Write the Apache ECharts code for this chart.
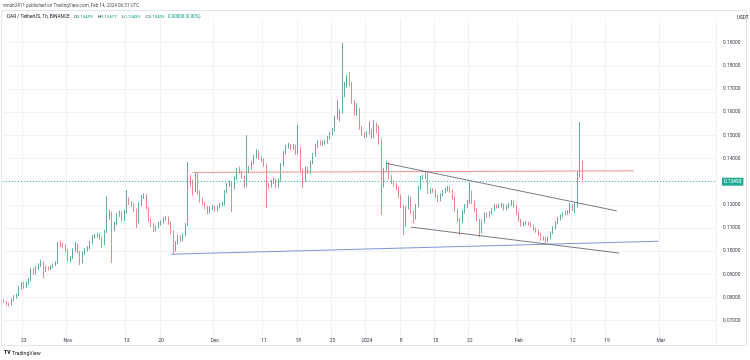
<!DOCTYPE html>
<html><head><meta charset="utf-8">
<script src="https://cdn.jsdelivr.net/npm/echarts@6/dist/echarts.min.js"></script>
<style>html,body{margin:0;padding:0;background:#fff}#c{width:750px;height:360px}</style>
</head><body><div id="c"></div>
<script>
// 12h candles DAR/USDT starting 2023-10-19 00:00 UTC
const firstOpen = 0.0785;
const closes = [
.0781,.0772,.0768,.0789,.0802,.0811,.0841,.0858,.0845,.0863,
.0876,.0919,.0906,.0927,.0940,.0949,.0919,.0927,.0925,.0932,
.0940,.0949,.1031,.1027,.1022,.1005,.0962,.0971,.1005,.1027,
.0997,.0953,.0992,.1005,.1014,.1035,.1061,.1066,.1070,.1057,
.1031,.1083,.1143,.1165,.1091,.1118,.1156,.1165,.1135,.1169,
.1221,.1208,.1200,.1178,.1126,.1200,.1234,.1242,.1186,.1135,
.1113,.1091,.1104,.1118,.1126,.1139,.1143,.1122,.1083,.1005,
.1035,.1061,.1048,.1070,.1113,.1307,.1299,.1264,.1329,.1256,
.1221,.1208,.1191,.1169,.1186,.1191,.1178,.1191,.1200,.1204,
.1256,.1286,.1294,.1273,.1316,.1350,.1342,.1320,.1281,.1342,
.1359,.1381,.1407,.1428,.1402,.1394,.1372,.1286,.1281,.1299,
.1307,.1281,.1307,.1372,.1424,.1450,.1454,.1445,.1454,.1424,
.1445,.1350,.1307,.1359,.1342,.1381,.1415,.1454,.1471,.1463,
.1467,.1471,.1489,.1506,.1523,.1575,.1584,.1601,.1675,.1713,
.1739,.1722,.1644,.1592,.1610,.1532,.1506,.1497,.1510,.1523,
.1493,.1549,.1519,.1480,.1281,.1350,.1376,.1320,.1299,.1286,
.1273,.1238,.1195,.1113,.1186,.1230,.1169,.1143,.1195,.1273,
.1316,.1320,.1333,.1256,.1264,.1260,.1238,.1221,.1242,.1256,
.1264,.1273,.1260,.1230,.1178,.1135,.1126,.1169,.1195,.1212,
.1256,.1212,.1178,.1135,.1083,.1126,.1160,.1152,.1165,.1178,
.1195,.1191,.1195,.1200,.1182,.1191,.1200,.1212,.1195,.1165,
.1135,.1113,.1118,.1122,.1118,.1109,.1096,.1087,.1074,.1053,
.1057,.1048,.1057,.1079,.1100,.1122,.1139,.1152,.1160,.1165,
.1169,.1195,.1182,.1200,.1329,.1376,.13493
];
const highs = [
.0792,.0786,.0778,.0795,.0810,.0818,.0849,.0866,.0868,.0870,
.0885,.0929,.0927,.0935,.0948,.0962,.0955,.0936,.0934,.0940,
.0946,.0957,.1040,.1046,.1036,.1030,.1010,.0980,.1013,.1040,
.1032,.1002,.1000,.1013,.1022,.1044,.1070,.1075,.1080,.1077,
.1062,.1092,.1238,.1180,.1172,.1127,.1165,.1176,.1172,.1178,
.1264,.1232,.1216,.1207,.1184,.1210,.1242,.1250,.1248,.1192,
.1142,.1120,.1112,.1126,.1134,.1147,.1152,.1150,.1128,.1090,
.1043,.1069,.1068,.1078,.1122,.1385,.1330,.1310,.1342,.1336,
.1262,.1230,.1214,.1196,.1194,.1199,.1197,.1198,.1208,.1213,
.1264,.1295,.1305,.1300,.1325,.1360,.1365,.1348,.1326,.1501,
.1368,.1390,.1416,.1440,.1434,.1410,.1400,.1378,.1296,.1308,
.1316,.1313,.1315,.1380,.1433,.1460,.1468,.1462,.1463,.1460,
.1545,.1450,.1356,.1366,.1365,.1390,.1424,.1463,.1480,.1478,
.1476,.1480,.1498,.1515,.1532,.1586,.1653,.1612,.1899,.1730,
.1760,.1774,.1730,.1652,.1640,.1618,.1540,.1514,.1518,.1560,
.1530,.1566,.1556,.1545,.1486,.1360,.1390,.1384,.1328,.1306,
.1294,.1280,.1244,.1200,.1194,.1240,.1236,.1176,.1204,.1282,
.1325,.1330,.1345,.1340,.1272,.1272,.1266,.1244,.1250,.1264,
.1272,.1282,.1280,.1266,.1236,.1184,.1142,.1178,.1204,.1220,
.1298,.1262,.1218,.1184,.1140,.1134,.1168,.1167,.1173,.1186,
.1203,.1202,.1204,.1208,.1206,.1199,.1208,.1222,.1218,.1200,
.1170,.1140,.1126,.1130,.1128,.1124,.1115,.1102,.1093,.1080,
.1064,.1062,.1064,.1086,.1108,.1130,.1147,.1160,.1168,.1174,
.1178,.1208,.1202,.1208,.1345,.1558,.1390
];
const lows = [
.0776,.0766,.0761,.0764,.0783,.0795,.0806,.0834,.0838,.0840,
.0856,.0870,.0897,.0900,.0920,.0933,.0884,.0910,.0917,.0918,
.0926,.0936,.0945,.1018,.1012,.0996,.0955,.0952,.0966,.0998,
.0990,.0940,.0948,.0985,.0998,.1008,.1030,.1054,.1058,.1050,
.1014,.1026,.1078,.1136,.0949,.1085,.1112,.1148,.1128,.1130,
.1162,.1200,.1192,.1170,.1100,.1120,.1194,.1225,.1180,.1128,
.1105,.1083,.1085,.1098,.1111,.1120,.1132,.1115,.1075,.0988,
.0998,.1028,.1040,.1042,.1064,.1108,.1280,.1240,.1255,.1245,
.1210,.1198,.1182,.1160,.1162,.1178,.1170,.1172,.1185,.1194,
.1198,.1250,.1278,.1169,.1266,.1310,.1334,.1312,.1272,.1276,
.1335,.1352,.1375,.1400,.1395,.1386,.1364,.1186,.1270,.1274,
.1291,.1272,.1275,.1300,.1366,.1418,.1442,.1436,.1438,.1416,
.1418,.1342,.1273,.1300,.1334,.1336,.1375,.1408,.1446,.1455,
.1456,.1460,.1464,.1482,.1500,.1516,.1568,.1560,.1594,.1665,
.1705,.1712,.1636,.1584,.1585,.1524,.1498,.1488,.1490,.1503,
.1485,.1488,.1510,.1460,.1156,.1275,.1342,.1312,.1290,.1278,
.1264,.1230,.1186,.1070,.1106,.1180,.1160,.1120,.1136,.1190,
.1266,.1308,.1312,.1248,.1248,.1252,.1230,.1212,.1215,.1236,
.1250,.1258,.1252,.1222,.1170,.1126,.1070,.1120,.1162,.1188,
.1206,.1204,.1170,.1127,.1061,.1077,.1120,.1144,.1146,.1158,
.1172,.1184,.1186,.1188,.1175,.1176,.1185,.1194,.1188,.1158,
.1128,.1106,.1108,.1112,.1110,.1102,.1088,.1080,.1066,.1045,
.1046,.1035,.1040,.1052,.1073,.1094,.1116,.1133,.1146,.1154,
.1158,.1162,.1174,.1165,.1190,.1320,.1307
];
const lastPrice = 0.13493;
// time-scale tick labels
const tickDates = ['2023-10-23','2023-11-01','2023-11-13','2023-11-20','2023-12-01','2023-12-11','2023-12-18','2023-12-25','2024-01-01','2024-01-08','2024-01-15','2024-01-22','2024-02-01','2024-02-12','2024-02-19','2024-03-01'];
const tickTexts = ['23','Nov','13','20','Dec','11','18','25','2024','8','15','22','Feb','12','19','Mar'];
// drawings (date, price)
const horizLine = [['2023-11-26 12', 0.1340], ['2024-02-24 12', 0.1347]];
const upperTrend = [['2024-01-05 00', 0.1379], ['2024-02-21 00', 0.1174]];
const lowerTrend = [['2024-01-10 00', 0.1104], ['2024-02-21 12', 0.0992]];
const supportLine = [['2023-11-22 00', 0.0987], ['2024-02-29 12', 0.1043]];

const nCats = 291;
const startUTC = Date.UTC(2023, 9, 19, 0);
const pad = n => String(n).padStart(2, '0');
const cats = [];
for (let i = 0; i < nCats; i++) {
  const d = new Date(startUTC + i * 12 * 3600e3);
  cats.push(d.getUTCFullYear() + '-' + pad(d.getUTCMonth() + 1) + '-' + pad(d.getUTCDate()) + ' ' + pad(d.getUTCHours()));
}
const tickMap = {};
tickDates.forEach((t, k) => { tickMap[t + ' 00'] = tickTexts[k]; });
const candles = closes.map((c, i) => [i === 0 ? firstOpen : closes[i - 1], c, lows[i], highs[i]]);

const UP = '#1f8c7d', DOWN = '#e2535c';
const FONT = 'Roboto';
const chart = echarts.init(document.getElementById('c'), null, {renderer: 'canvas'});
const lineSeries = (data, color, w) => ({
  type: 'line', data: data, symbol: 'none', silent: true, z: 5,
  lineStyle: {color: color, width: w}, animation: false
});
const hdr = {l: {fontSize: 4.3, fill: '#131722', fontFamily: FONT}, v: {fontSize: 4.3, fill: '#089981', fontFamily: FONT}};
chart.setOption({
  animation: false,
  backgroundColor: '#ffffff',
  textStyle: {fontFamily: FONT},
  grid: {left: 3, right: 34, top: 19.5, bottom: 16.1, containLabel: false},
  xAxis: {
    type: 'category', data: cats, boundaryGap: true,
    axisLine: {show: false}, axisTick: {show: false},
    axisLabel: {
      interval: (idx, val) => tickMap[val] !== undefined,
      formatter: val => tickMap[val] || '',
      fontSize: 5, color: '#3a3e4a', margin: -6, fontFamily: FONT
    },
    splitLine: {show: true, interval: (idx, val) => tickMap[val] !== undefined, lineStyle: {color: '#f0f2f6', width: 1}}
  },
  yAxis: {
    type: 'value', position: 'right', min: 0.06, max: 0.20, interval: 0.01, scale: true,
    axisLine: {show: false}, axisTick: {show: false},
    axisLabel: {formatter: v => v.toFixed(5), fontSize: 4.8, color: '#3a3e4a', margin: 7, showMinLabel: false, showMaxLabel: false, fontFamily: FONT},
    splitLine: {show: true, showMinLine: false, showMaxLine: false, lineStyle: {color: '#f0f2f6', width: 1}}
  },
  series: [
    lineSeries(supportLine, '#7f96d8', 1),
    lineSeries(horizLine, '#ef8f8f', 1),
    lineSeries(upperTrend, '#555a66', 0.8),
    lineSeries(lowerTrend, '#555a66', 0.8),
    {
      type: 'candlestick', data: candles, barWidth: '50%', z: 3,
      itemStyle: {color: UP, color0: DOWN, borderColor: UP, borderColor0: DOWN, borderWidth: 0.7},
      markLine: {
        silent: true, symbol: 'none',
        lineStyle: {type: [1, 2], color: '#4fb8a8', width: 1},
        label: {show: true, position: 'end', formatter: () => lastPrice.toFixed(5), backgroundColor: '#22ab94', color: '#fff', fontSize: 4.8, padding: [2, 2, 1, 2], distance: 6, fontFamily: FONT},
        data: [{yAxis: lastPrice}]
      }
    }
  ],
  graphic: [
    {type: 'rect', shape: {x: 1.5, y: 10.5, width: 745, height: 335}, style: {fill: 'none', stroke: '#e0e3eb', lineWidth: 1}, silent: true},
    {type: 'text', x: 3, y: 3, style: {text: 'mnab2411 published on TradingView.com, Feb 14, 2024 06:31 UTC', fontSize: 4.6, fill: '#50535e', fontFamily: FONT}},
    {type: 'text', x: 7, y: 14.3, style: {text: 'DAR / TetherUS, 1h, BINANCE', fontSize: 4.8, fill: '#131722', fontFamily: FONT}},
    {type: 'text', x: 74, y: 14.5, style: {text: '{l|O}{v|0.13493}', rich: hdr}},
    {type: 'text', x: 98, y: 14.5, style: {text: '{l|H}{v|0.13577}', rich: hdr}},
    {type: 'text', x: 122, y: 14.5, style: {text: '{l|L}{v|0.13490}', rich: hdr}},
    {type: 'text', x: 146, y: 14.5, style: {text: '{l|C}{v|0.13493}', rich: hdr}},
    {type: 'text', x: 168, y: 14.5, style: {text: '0.00000 (0.00%)', fontSize: 4.5, fill: '#089981', fontFamily: FONT}},
    {type: 'text', x: 737, y: 15, style: {text: 'USDT', fontSize: 4.6, fill: '#131722', fontFamily: FONT}},
    {type: 'text', x: 4, y: 350.5, style: {text: 'TV', fontSize: 5, fontWeight: 900, fill: '#131722', fontFamily: FONT}},
    {type: 'text', x: 12, y: 351, style: {text: 'TradingView', fontSize: 5.2, fill: '#131722', fontFamily: FONT}}
  ]
});
</script></body></html>
